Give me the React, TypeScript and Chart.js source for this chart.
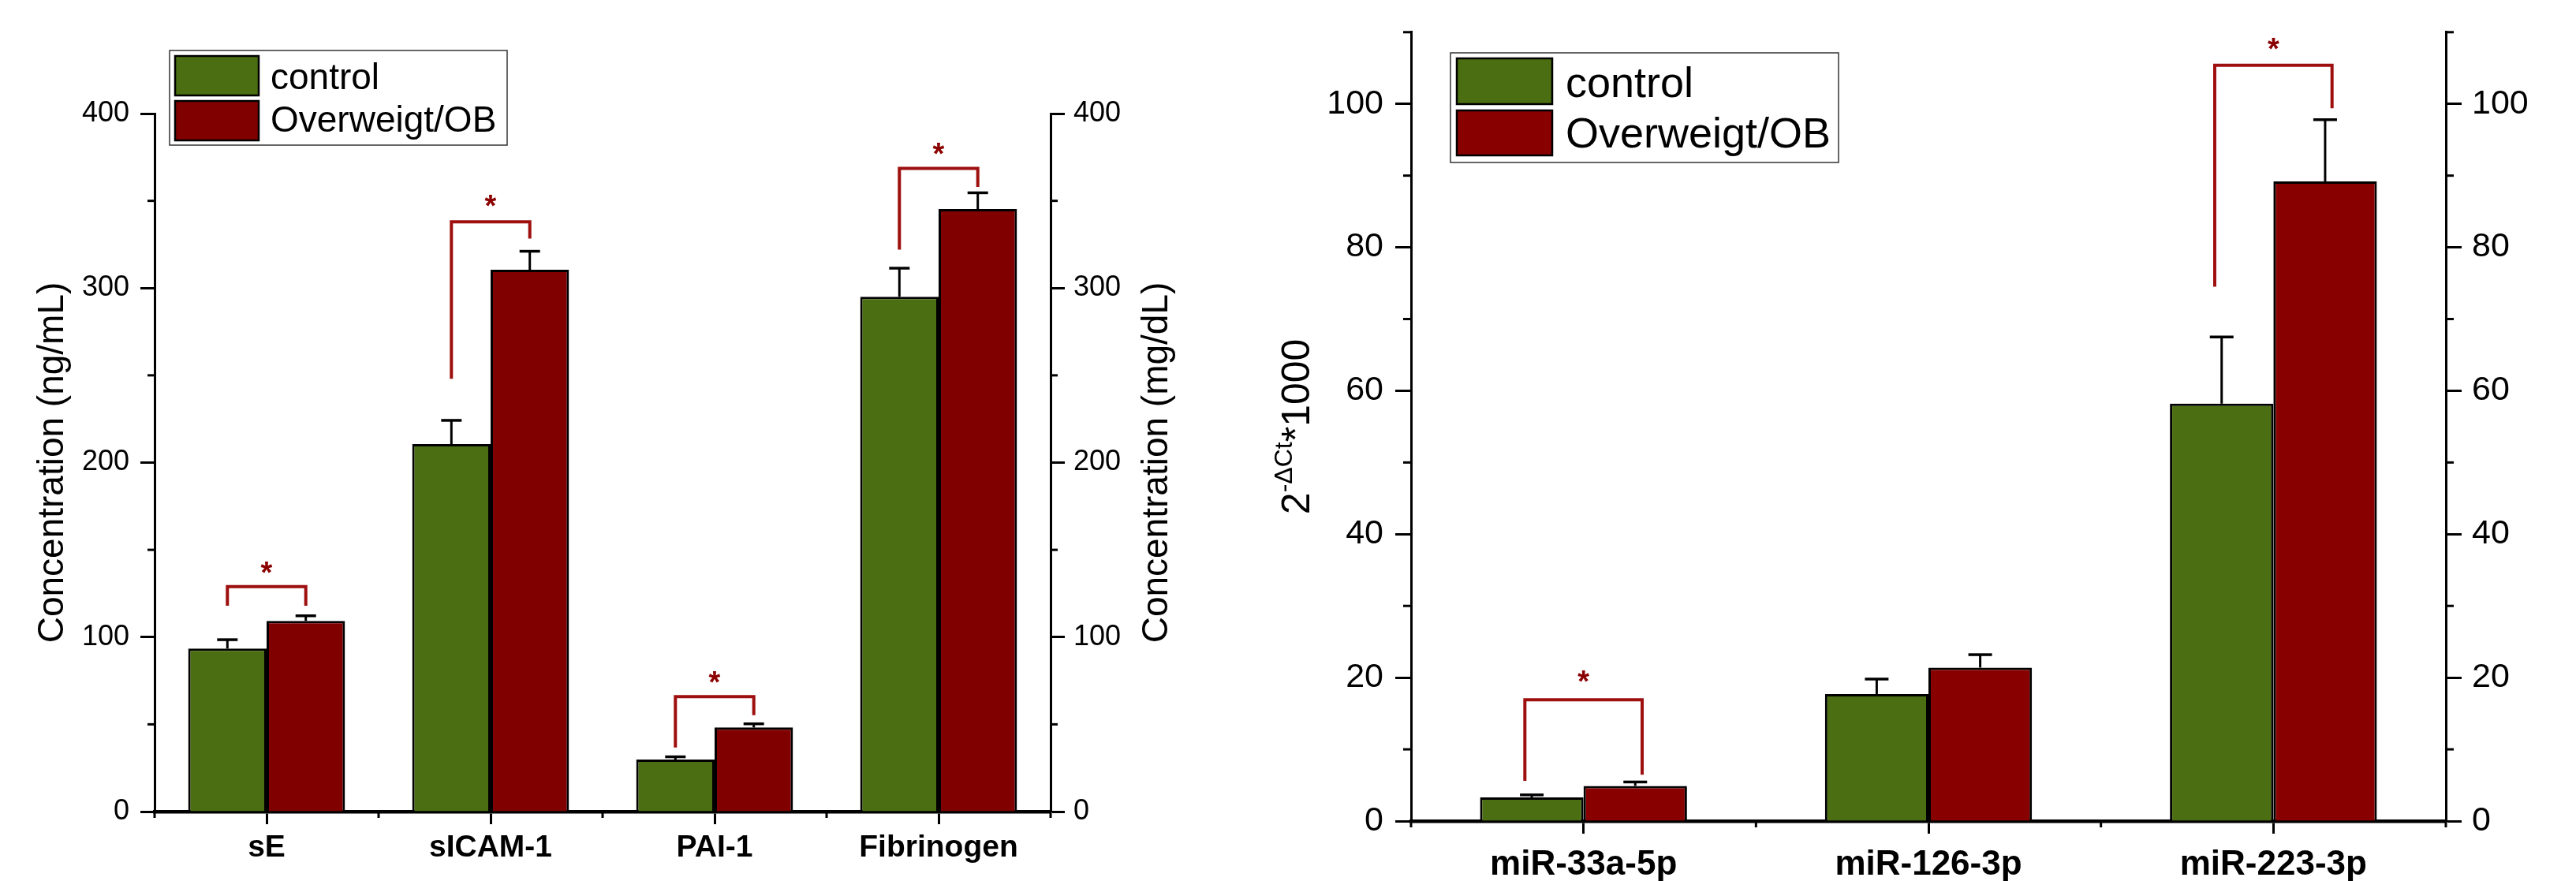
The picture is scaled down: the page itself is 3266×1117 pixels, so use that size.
import React, { useEffect, useRef } from 'react';
import { Chart, registerables } from 'chart.js';

Chart.register(...registerables);

// ---------------- data ----------------
const seriesNames = ['control', 'Overweigt/OB'];

const leftCategories = ['sE', 'sICAM-1', 'PAI-1', 'Fibrinogen'];
const leftControl = [93.4, 210.6, 29.8, 295.0];
const leftControlErr = [5.1, 13.6, 1.6, 16.4];
const leftOB = [109.3, 310.5, 48.2, 345.3];
const leftOBErr = [2.9, 10.6, 2.1, 9.3];
const leftMinorTicks = [50, 150, 250, 350];
// significance brackets (category index, bracket level, left leg end, right leg end, star level)
const leftSigIndex = [0, 1, 2, 3];
const leftSigTop = [128.9, 338, 65.9, 368.6];
const leftSigLeftEnd = [118, 248, 36.7, 322];
const leftSigRightEnd = [118, 328.4, 55.2, 358];
const leftSigStar = [140.7, 351, 78.1, 380.8];

const rightCategories = ['miR-33a-5p', 'miR-126-3p', 'miR-223-3p'];
const rightControl = [3.3, 17.7, 58.2];
const rightControlErr = [0.35, 2.1, 9.3];
const rightOB = [4.9, 21.4, 89.2];
const rightOBErr = [0.55, 1.8, 8.6];
const rightMinorTicks = [10, 30, 50, 70, 90, 110];
const rightSigIndex = [0, 2];
const rightSigTop = [16.9, 105.4];
const rightSigLeftEnd = [5.6, 74.5];
const rightSigRightEnd = [6.45, 99.4];
const rightSigStar = [20.4, 108.6];

// ---------------- styling ----------------
const FAM = "'Liberation Sans', Arial, Helvetica, sans-serif";
const GREEN = '#4A6E11';

type Panel = {
  W: number;
  H: number;
  categories: string[];
  control: number[];
  controlErr: number[];
  ob: number[];
  obErr: number[];
  obColor: string;
  yMax: number;
  yStep: number;
  minor: number[];
  sigIndex: number[];
  sigTop: number[];
  sigLeft: number[];
  sigRight: number[];
  sigStar: number[];
  catPct: number;
  padTop: number;
  leftW: number;
  rightW: number;
  xH: number;
  tickFont: number;
  catFont: number;
  xPad: number;
  yPadL: number;
  yPadR: number;
  majorLen: number;
  minorLen: number;
  capW: number;
  legOffset: number;
  starFont: number;
  legend: {
    x: number; y: number; w: number; h: number;
    swX: number; swW: number; sw1Y: number; sw1H: number; sw2Y: number; sw2H: number;
    textX: number; base1: number; base2: number; font: number;
  };
  titles: (ctx: CanvasRenderingContext2D, ca: any) => void;
};

function rotatedText(ctx: CanvasRenderingContext2D, text: string, cx: number, cy: number, size: number) {
  ctx.save();
  ctx.translate(cx, cy);
  ctx.rotate(-Math.PI / 2);
  ctx.font = `${size}px ${FAM}`;
  ctx.fillStyle = '#000';
  ctx.textAlign = 'center';
  ctx.textBaseline = 'middle';
  ctx.fillText(text, 0, 0);
  ctx.restore();
}

const leftPanel: Panel = {
  W: 1560,
  H: 1117,
  categories: leftCategories,
  control: leftControl,
  controlErr: leftControlErr,
  ob: leftOB,
  obErr: leftOBErr,
  obColor: '#800000',
  yMax: 400,
  yStep: 100,
  minor: leftMinorTicks,
  sigIndex: leftSigIndex,
  sigTop: leftSigTop,
  sigLeft: leftSigLeftEnd,
  sigRight: leftSigRightEnd,
  sigStar: leftSigStar,
  catPct: 0.7,
  padTop: 144,
  leftW: 196,
  rightW: 1560 - 1332,
  xH: 1117 - 1029,
  tickFont: 36,
  catFont: 39,
  xPad: 7,
  yPadL: 14,
  yPadR: 11,
  majorLen: 18,
  minorLen: 9,
  capW: 26,
  legOffset: 0.175,
  starFont: 38,
  legend: {
    x: 215, y: 64, w: 428, h: 120,
    swX: 222, swW: 106, sw1Y: 71, sw1H: 50, sw2Y: 128, sw2H: 50,
    textX: 343, base1: 113, base2: 167, font: 46,
  },
  titles: (ctx, ca) => {
    const cy = (ca.top + ca.bottom) / 2;
    rotatedText(ctx, 'Concentration (ng/mL)', 67, cy, 46);
    rotatedText(ctx, 'Concentration (mg/dL)', 1467, cy, 46);
  },
};

const rightPanel: Panel = {
  W: 1706,
  H: 1117,
  categories: rightCategories,
  control: rightControl,
  controlErr: rightControlErr,
  ob: rightOB,
  obErr: rightOBErr,
  obColor: '#880000',
  yMax: 110,
  yStep: 20,
  minor: rightMinorTicks,
  sigIndex: rightSigIndex,
  sigTop: rightSigTop,
  sigLeft: rightSigLeftEnd,
  sigRight: rightSigRightEnd,
  sigStar: rightSigStar,
  catPct: 0.6,
  padTop: 19,
  leftW: 229,
  rightW: 1706 - 1541,
  xH: 1117 - 1041,
  tickFont: 43,
  catFont: 44,
  xPad: 13,
  yPadL: 15,
  yPadR: 13,
  majorLen: 20,
  minorLen: 10,
  capW: 30,
  legOffset: 0.17,
  starFont: 38,
  legend: {
    x: 279, y: 67, w: 492, h: 139,
    swX: 287, swW: 121, sw1Y: 74, sw1H: 58, sw2Y: 140, sw2H: 57,
    textX: 425, base1: 123, base2: 187, font: 54,
  },
  titles: (ctx, ca) => {
    const cy = (ca.top + ca.bottom) / 2;
    const main = 50;
    const sup = 32;
    const parts = [
      { t: '2', size: main, dy: 0 },
      { t: '-\u0394Ct', size: sup, dy: -22 },
      { t: '*1000', size: main, dy: 0 },
    ];
    ctx.save();
    ctx.translate(100, cy);
    ctx.rotate(-Math.PI / 2);
    ctx.fillStyle = '#000';
    ctx.textBaseline = 'alphabetic';
    ctx.textAlign = 'left';
    let total = 0;
    parts.forEach((p) => {
      ctx.font = `${p.size}px ${FAM}`;
      total += ctx.measureText(p.t).width;
    });
    let x = -total / 2;
    parts.forEach((p) => {
      ctx.font = `${p.size}px ${FAM}`;
      ctx.fillText(p.t, x, p.dy);
      x += ctx.measureText(p.t).width;
    });
    ctx.restore();
  },
};

function line(ctx: CanvasRenderingContext2D, x1: number, y1: number, x2: number, y2: number) {
  ctx.beginPath();
  ctx.moveTo(x1, y1);
  ctx.lineTo(x2, y2);
  ctx.stroke();
}

function buildChart(canvas: HTMLCanvasElement, p: Panel) {
  const overlay = {
    id: 'overlay',
    afterDatasetsDraw(chart: any) {
      const ctx: CanvasRenderingContext2D = chart.ctx;
      const ys = chart.scales.y;
      const xs = chart.scales.x;
      ctx.save();
      const vals = [p.control, p.ob];
      const errs = [p.controlErr, p.obErr];
      for (let d = 0; d < 2; d++) {
        const meta = chart.getDatasetMeta(d);
        meta.data.forEach((bar: any, i: number) => {
          const yTop = ys.getPixelForValue(vals[d][i] + errs[d][i]);
          const yBar = ys.getPixelForValue(vals[d][i]);
          ctx.strokeStyle = '#000';
          ctx.lineCap = 'butt';
          ctx.lineWidth = 3;
          line(ctx, bar.x, yBar, bar.x, yTop);
          ctx.lineWidth = 3.5;
          line(ctx, bar.x - p.capW / 2, yTop, bar.x + p.capW / 2, yTop);
        });
      }
      const catW = (xs.right - xs.left) / p.categories.length;
      p.sigIndex.forEach((ci, k) => {
        const cx = xs.getPixelForTick(ci);
        const lx = cx - p.legOffset * catW;
        const rx = cx + p.legOffset * catW;
        const yt = ys.getPixelForValue(p.sigTop[k]);
        ctx.strokeStyle = '#9E0F0F';
        ctx.lineWidth = 4;
        ctx.lineJoin = 'miter';
        ctx.beginPath();
        ctx.moveTo(lx, ys.getPixelForValue(p.sigLeft[k]));
        ctx.lineTo(lx, yt);
        ctx.lineTo(rx, yt);
        ctx.lineTo(rx, ys.getPixelForValue(p.sigRight[k]));
        ctx.stroke();
        const sy = ys.getPixelForValue(p.sigStar[k]);
        ctx.fillStyle = '#8B0000';
        ctx.font = `bold ${p.starFont}px ${FAM}`;
        ctx.textAlign = 'center';
        ctx.textBaseline = 'alphabetic';
        ctx.fillText('*', cx, sy + 0.57 * p.starFont);
      });
      ctx.restore();
    },
    afterDraw(chart: any) {
      const ctx: CanvasRenderingContext2D = chart.ctx;
      const ys = chart.scales.y;
      const xs = chart.scales.x;
      const ca = chart.chartArea;
      ctx.save();
      // minor ticks
      ctx.strokeStyle = '#000';
      ctx.lineWidth = 3;
      p.minor.forEach((v) => {
        const py = ys.getPixelForValue(v);
        line(ctx, ca.left - p.minorLen, py, ca.left, py);
        line(ctx, ca.right, py, ca.right + p.minorLen, py);
      });
      const n = p.categories.length;
      const catW = (xs.right - xs.left) / n;
      for (let i = 0; i <= n; i++) {
        const px = xs.left + i * catW;
        line(ctx, px, ca.bottom, px, ca.bottom + 8);
      }
      // legend
      const L = p.legend;
      ctx.strokeStyle = '#333';
      ctx.lineWidth = 1.5;
      ctx.strokeRect(L.x, L.y, L.w, L.h);
      const sw = [
        { y: L.sw1Y, h: L.sw1H, c: GREEN, t: seriesNames[0], b: L.base1 },
        { y: L.sw2Y, h: L.sw2H, c: p.obColor, t: seriesNames[1], b: L.base2 },
      ];
      sw.forEach((s) => {
        ctx.fillStyle = s.c;
        ctx.fillRect(L.swX, s.y, L.swW, s.h);
        ctx.strokeStyle = '#000';
        ctx.lineWidth = 2.5;
        ctx.strokeRect(L.swX, s.y, L.swW, s.h);
        ctx.fillStyle = '#000';
        ctx.font = `${L.font}px ${FAM}`;
        ctx.textAlign = 'left';
        ctx.textBaseline = 'alphabetic';
        ctx.fillText(s.t, L.textX, s.b);
      });
      p.titles(ctx, ca);
      ctx.restore();
    },
  };

  const tickGrid = (len: number) => ({
    display: true,
    drawOnChartArea: false,
    drawTicks: true,
    offset: false,
    tickLength: len,
    tickWidth: 3,
    tickColor: '#000',
  });

  return new Chart(canvas, {
    type: 'bar',
    data: {
      labels: p.categories,
      datasets: [
        {
          label: seriesNames[0],
          data: p.control,
          backgroundColor: GREEN,
          borderColor: '#000',
          borderWidth: 3,
          categoryPercentage: p.catPct,
          barPercentage: 1,
        },
        {
          label: seriesNames[1],
          data: p.ob,
          backgroundColor: p.obColor,
          borderColor: '#000',
          borderWidth: 3,
          categoryPercentage: p.catPct,
          barPercentage: 1,
        },
      ],
    },
    options: {
      animation: false,
      responsive: false,
      maintainAspectRatio: false,
      devicePixelRatio: 1,
      layout: { padding: { top: p.padTop, left: 0, right: 0, bottom: 0 } },
      plugins: {
        legend: { display: false },
        tooltip: { enabled: false },
        title: { display: false },
      },
      scales: {
        x: {
          type: 'category',
          offset: true,
          z: 1,
          grid: tickGrid(16),
          border: { display: true, color: '#000', width: 4.5 },
          ticks: {
            color: '#000',
            font: { family: FAM, size: p.catFont, weight: 'bold' },
            padding: p.xPad,
            maxRotation: 0,
            autoSkip: false,
          },
          afterFit: (s: any) => {
            s.height = p.xH;
          },
        },
        y: {
          position: 'left',
          min: 0,
          max: p.yMax,
          grid: tickGrid(p.majorLen),
          border: { display: true, color: '#000', width: 3 },
          ticks: {
            stepSize: p.yStep,
            includeBounds: false,
            color: '#000',
            font: { family: FAM, size: p.tickFont },
            padding: p.yPadL,
          },
          afterFit: (s: any) => {
            s.width = p.leftW;
          },
        },
        y2: {
          position: 'right',
          min: 0,
          max: p.yMax,
          grid: tickGrid(p.majorLen),
          border: { display: true, color: '#000', width: 3 },
          ticks: {
            stepSize: p.yStep,
            includeBounds: false,
            color: '#000',
            font: { family: FAM, size: p.tickFont },
            padding: p.yPadR,
          },
          afterFit: (s: any) => {
            s.width = p.rightW;
          },
        },
      },
    } as any,
    plugins: [overlay],
  });
}

export default function App() {
  const leftRef = useRef<HTMLCanvasElement>(null);
  const rightRef = useRef<HTMLCanvasElement>(null);
  useEffect(() => {
    const c1 = buildChart(leftRef.current as HTMLCanvasElement, leftPanel);
    const c2 = buildChart(rightRef.current as HTMLCanvasElement, rightPanel);
    return () => {
      c1.destroy();
      c2.destroy();
    };
  }, []);
  return (
    <div
      style={{
        position: 'absolute',
        left: 0,
        top: 0,
        width: 3266,
        height: 1117,
        background: '#fff',
        overflow: 'hidden',
      }}
    >
      <canvas
        ref={leftRef}
        width={1560}
        height={1117}
        style={{ position: 'absolute', left: 0, top: 0, width: 1560, height: 1117 }}
      />
      <canvas
        ref={rightRef}
        width={1706}
        height={1117}
        style={{ position: 'absolute', left: 1560, top: 0, width: 1706, height: 1117 }}
      />
    </div>
  );
}
